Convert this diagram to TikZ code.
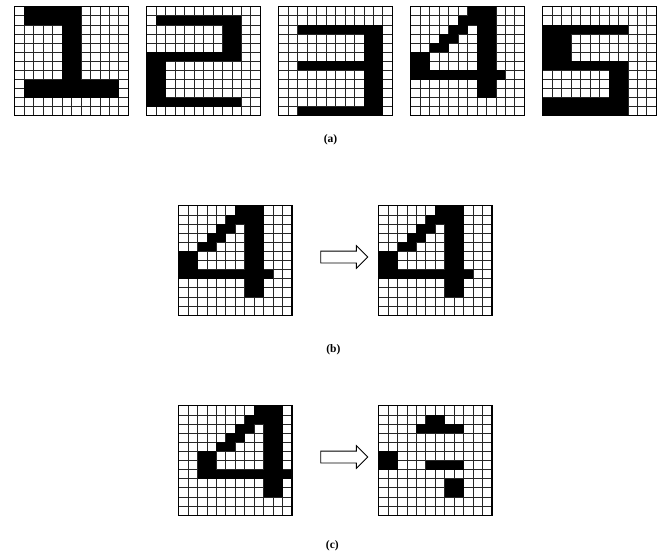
\documentclass[tikz,border=0pt]{standalone}
\usepackage{fontspec}
\setmainfont{Liberation Serif}
\usepackage{tikz}
\usetikzlibrary{shapes.arrows,positioning,calc}

\def\cw{9.45}
\def\ch{9.1}

% 12x12 pattern: name, placement, black blocks c1/r1/c2/r2
\newcommand{\digitgrid}[3]{%
  \node[gridbox, #2] (#1) {};
  \begin{scope}[shift={(#1.north west)}]
    \foreach \i in {1,...,11} {
      \draw[gridline] (\i*\cw,0) -- (\i*\cw,12*\ch);
      \draw[gridline] (0,\i*\ch) -- (12*\cw,\i*\ch);
    }
    \foreach \ca/\ra/\cb/\rb in {#3} {
      \fill[black] (\ca*\cw,\ra*\ch) rectangle ({(\cb+1)*\cw},{(\rb+1)*\ch});
    }
  \end{scope}
  \draw[gridframe] (#1.north west) rectangle (#1.south east);
}

\begin{document}
\begin{tikzpicture}[
    x=1pt, y=-1pt,
    gridbox/.style={rectangle, inner sep=0pt, outer sep=0pt, minimum width=113.4pt, minimum height=109.2pt},
    gridline/.style={draw=black!85, line width=0.8pt},
    gridframe/.style={draw=black, line width=1.1pt},
    fatarrow/.style={single arrow, draw=black, fill=white, line width=0.8pt, minimum height=47pt, inner xsep=0pt, inner ysep=5.5pt, single arrow head extend=5.5pt},
    tag/.style={font=\fontsize{11.5}{13}\selectfont\bfseries}
]
\useasboundingbox (0,0) rectangle (660,554);

% (a) the five stored digits
\digitgrid{a1}{at={(71.6,61.3)}}{1/0/6/1, 5/2/6/7, 1/8/10/9}
\digitgrid{a2}{right=18.6pt of a1}{1/1/9/1, 8/2/9/4, 0/5/9/5, 0/6/1/9, 0/10/9/10}
\digitgrid{a3}{right=18.6pt of a2}{2/2/10/2, 9/3/10/10, 2/6/8/6, 2/11/10/11}
\digitgrid{a4}{right=18.6pt of a3}{6/0/8/0, 5/1/8/1, 4/2/5/2, 3/3/4/3, 2/4/3/4, 0/5/1/6, 7/2/8/9, 0/7/9/7}
\digitgrid{a5}{right=18.6pt of a4}{0/2/8/2, 0/3/2/5, 0/6/8/6, 7/7/8/9, 0/10/8/11}
\node[tag] (taga) at ($(a3.south)+(-5,24)$) {(a)};

% (b) recall of the 4
\digitgrid{b1}{at={(235.3,260.5)}}{6/0/8/0, 5/1/8/1, 4/2/5/2, 3/3/4/3, 2/4/3/4, 0/5/1/6, 7/2/8/9, 0/7/9/7}
\digitgrid{b2}{right=86.6pt of b1}{6/0/8/0, 5/1/8/1, 4/2/5/2, 3/3/4/3, 2/4/3/4, 0/5/1/6, 7/2/8/9, 0/7/9/7}
\node[fatarrow, xshift=6pt, yshift=3.5pt] (arrb) at ($(b1.east)!0.5!(b2.west)$) {};
\node[tag] (tagb) at ($(b1.south)!0.5!(b2.south)+(-2,35)$) {(b)};

% (c) shifted 4
\digitgrid{c1}{below=90.8pt of b1}{8/0/10/0, 7/1/10/1, 6/2/7/2, 5/3/6/3, 4/4/5/4, 2/5/3/6, 9/2/10/9, 2/7/11/7}
\digitgrid{c2}{right=86.6pt of c1}{5/1/6/1, 4/2/8/2, 0/5/1/6, 5/6/8/6, 7/8/8/9}
\node[fatarrow, xshift=6pt, yshift=3.5pt] (arrc) at ($(c1.east)!0.5!(c2.west)$) {};
\node[tag] (tagc) at ($(c1.south)!0.5!(c2.south)+(-3,31)$) {(c)};

\end{tikzpicture}
\end{document}
